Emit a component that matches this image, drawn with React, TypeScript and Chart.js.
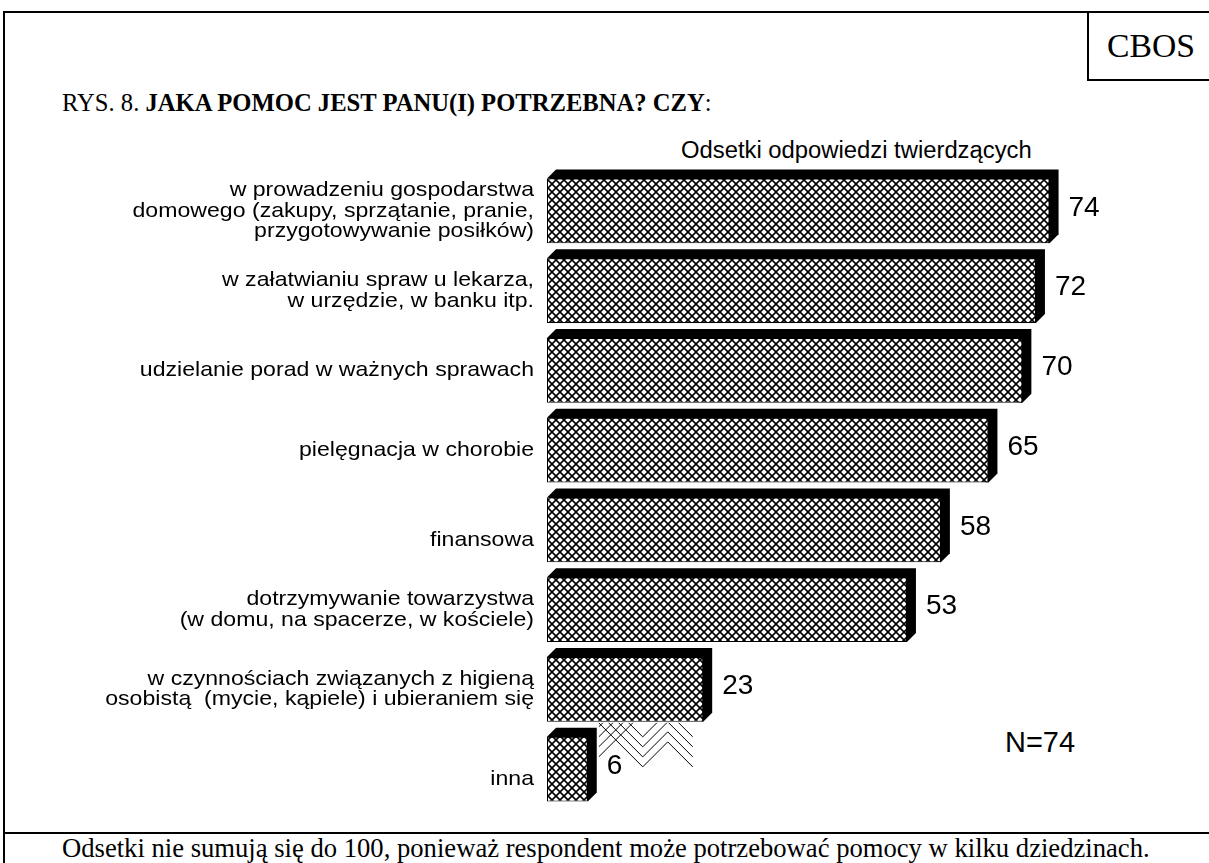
import React, { useEffect, useLayoutEffect, useRef } from "react";
import { Chart, registerables } from "chart.js";

Chart.register(...registerables);

// ---------- data ----------
const categories: (string | string[])[] = [
  ["w prowadzeniu gospodarstwa", "domowego (zakupy, sprzątanie, pranie,", "przygotowywanie posiłków)"],
  ["w załatwianiu spraw u lekarza,", "w urzędzie, w banku itp."],
  "udzielanie porad w ważnych sprawach",
  "pielęgnacja w chorobie",
  ["", "finansowa"],
  ["dotrzymywanie towarzystwa", "(w domu, na spacerze, w kościele)"],
  ["w czynnościach związanych z higieną", "osobistą  (mycie, kąpiele) i ubieraniem się"],
  ["", "inna"],
];
const values: number[] = [74, 72, 70, 65, 58, 53, 23, 6];
const titleNormal = "RYS. 8. ";
const titleBold = "JAKA POMOC JEST PANU(I) POTRZEBNA? CZY";
const titleEnd = ":";
const seriesTitle = "Odsetki odpowiedzi twierdzących";
const sampleNote = "N=74";
const footerNote =
  "Odsetki nie sumują się do 100, ponieważ respondent może potrzebować pomocy w kilku dziedzinach.";
const sourceLabel = "CBOS";

const SERIF = '"Liberation Serif", "Times New Roman", serif';
const SANS = '"Liberation Sans", Arial, sans-serif';
const DEPTH = 9;
const LABEL_SX = 1.1;
const TICK_PAD = 13;

function FitText(props: {
  x: number;
  cy: number;
  w: number;
  size: number;
  family: string;
  children: React.ReactNode;
}) {
  const ref = useRef<HTMLDivElement>(null);
  useLayoutEffect(() => {
    const el = ref.current;
    if (!el) return;
    const actual = el.getBoundingClientRect().width;
    if (actual > 0) {
      const fs = (props.size * props.w) / actual;
      el.style.fontSize = `${fs}px`;
      el.style.lineHeight = `${fs}px`;
      el.style.top = `${props.cy - fs / 2}px`;
    }
  }, [props.w, props.size]);
  return (
    <div
      ref={ref}
      style={{
        position: "absolute",
        left: props.x,
        top: props.cy - props.size / 2,
        fontSize: props.size,
        lineHeight: `${props.size}px`,
        fontFamily: props.family,
        whiteSpace: "nowrap",
        color: "#000",
      }}
    >
      {props.children}
    </div>
  );
}

function BarChart() {
  const canvasRef = useRef<HTMLCanvasElement>(null);
  useEffect(() => {
    const canvas = canvasRef.current!;
    const ctx = canvas.getContext("2d")!;
    const S = 8;
    const tile = document.createElement("canvas");
    tile.width = S;
    tile.height = S;
    const t = tile.getContext("2d")!;
    t.fillStyle = "#fff";
    t.fillRect(0, 0, S, S);
    t.strokeStyle = "#000";
    t.lineWidth = 1.6;
    t.beginPath();
    t.moveTo(-2, -2);
    t.lineTo(S + 2, S + 2);
    t.moveTo(-2, S + 2);
    t.lineTo(S + 2, -2);
    t.stroke();
    const pattern = ctx.createPattern(tile, "repeat")!;

    const extrude = {
      id: "extrude",
      beforeDatasetsDraw(chart: any) {
        const meta = chart.getDatasetMeta(0);
        const c = chart.ctx;
        c.save();
        c.fillStyle = "#000";
        meta.data.forEach((el: any) => {
          const { x, y, base, height } = el.getProps(["x", "y", "base", "height"], true);
          const L = base, R = x, T = y - height / 2, B = y + height / 2, d = DEPTH;
          c.beginPath();
          c.moveTo(L, T);
          c.lineTo(L + d, T - d);
          c.lineTo(R + d, T - d);
          c.lineTo(R + d, B - d);
          c.lineTo(R, B);
          c.closePath();
          c.fill();
        });
        c.restore();
      },
    };

    const labelsPlugin = {
      id: "valueLabels",
      afterDatasetsDraw(chart: any) {
        const meta = chart.getDatasetMeta(0);
        const c = chart.ctx;
        c.save();
        c.fillStyle = "#000";
        c.font = `28px ${SANS}`;
        c.textAlign = "left";
        c.textBaseline = "middle";
        meta.data.forEach((el: any, i: number) => {
          const { x, y } = el.getProps(["x", "y"], true);
          c.fillText(String(values[i]), x + DEPTH + 10, y - 3);
        });
        c.restore();
      },
    };

    // rendering artefact below the 7th bar (chevrons)
    const artefact = {
      id: "artefact",
      afterDatasetsDraw(chart: any) {
        const meta = chart.getDatasetMeta(0);
        const b7 = meta.data[6].getProps(["y", "height"], true);
        const b8 = meta.data[7].getProps(["x"], true);
        const top = b7.y + b7.height / 2 + 1;
        const x0 = b8.x + DEPTH + 2;
        const c = chart.ctx;
        c.save();
        c.beginPath();
        c.rect(x0, top, 100, 48);
        c.clip();
        c.strokeStyle = "#000";
        c.lineWidth = 1;
        const vx = x0 + 44;
        for (let k = 0; k < 4; k++) {
          const v = top + 44 - 10 * k;
          c.beginPath();
          c.moveTo(vx - (v - top) - 5, top - 5);
          c.lineTo(vx, v);
          c.lineTo(vx + 25, v - 25);
          c.lineTo(vx + 50, v);
          c.stroke();
          const ly = top + 34 - 10 * k;
          c.beginPath();
          c.moveTo(x0, ly);
          c.lineTo(x0 + (ly - top) + 5, top - 5);
          c.stroke();
        }
        c.restore();
      },
    };

    // widen the category labels slightly (the original typeface is wider)
    const stretchLabels = {
      id: "stretchLabels",
      afterDatasetsDraw(chart: any) {
        const c = chart.ctx;
        const ax = chart.chartArea.left - TICK_PAD;
        c.save();
        c.translate(ax, 0);
        c.scale(LABEL_SX, 1);
        c.translate(-ax, 0);
      },
      afterDraw(chart: any) {
        chart.ctx.restore();
      },
    };

    const chart = new Chart(ctx, {
      type: "bar",
      data: {
        labels: categories,
        datasets: [
          {
            data: values,
            backgroundColor: pattern,
            borderColor: "#000",
            borderWidth: 1,
            borderSkipped: false,
            barPercentage: 0.815,
            categoryPercentage: 1,
          },
        ],
      },
      options: {
        indexAxis: "y",
        responsive: false,
        animation: false,
        layout: { padding: { top: 171, bottom: 54, left: 0, right: 44 } },
        plugins: { legend: { display: false }, tooltip: { enabled: false }, title: { display: false } },
        scales: {
          x: { display: false, min: 0, max: 91 },
          y: {
            grid: { display: false, drawTicks: false },
            border: { display: false },
            ticks: {
              z: 1,
              color: "#000",
              padding: TICK_PAD,
              font: { family: SANS, size: 21, lineHeight: 0.98 },
            },
            afterFit(scale: any) {
              scale.width = 547;
            },
          },
        },
      } as any,
      plugins: [extrude, labelsPlugin, artefact, stretchLabels],
    });
    return () => chart.destroy();
  }, []);
  return (
    <canvas
      ref={canvasRef}
      width={1209}
      height={863}
      style={{ position: "absolute", left: 0, top: 0, width: 1209, height: 863 }}
    />
  );
}

export default function App() {
  return (
    <div
      style={{
        position: "fixed",
        left: 0,
        top: 0,
        width: 1209,
        height: 863,
        overflow: "hidden",
        background: "#fff",
      }}
    >
      <div
        style={{
          position: "absolute",
          left: 3,
          top: 11,
          width: 1230,
          height: 880,
          border: "2px solid #000",
        }}
      />
      <div style={{ position: "absolute", left: 3, top: 832, width: 1230, height: 2, background: "#000" }} />
      <div
        style={{
          position: "absolute",
          left: 1087,
          top: 11,
          width: 140,
          height: 66,
          border: "2px solid #000",
        }}
      />
      <FitText x={1107} cy={46} w={88} size={26} family={SERIF}>
        {sourceLabel}
      </FitText>
      <FitText x={62} cy={103} w={650} size={19} family={SERIF}>
        {titleNormal}
        <b>{titleBold}</b>
        {titleEnd}
      </FitText>
      <FitText x={681} cy={150} w={351} size={20} family={SANS}>
        {seriesTitle}
      </FitText>
      <FitText x={1005} cy={742} w={70} size={24} family={SANS}>
        {sampleNote}
      </FitText>
      <FitText x={62} cy={848} w={1088} size={21} family={SERIF}>
        {footerNote}
      </FitText>
      <BarChart />
    </div>
  );
}
